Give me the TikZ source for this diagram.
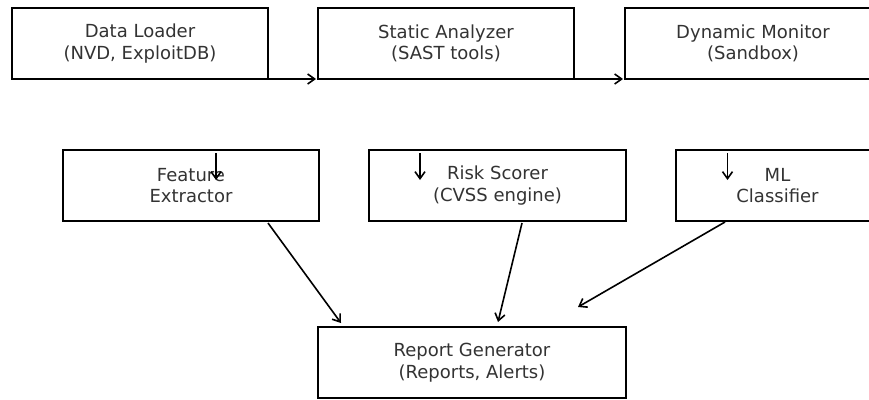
\documentclass[tikz,border=0pt]{standalone}
\usepackage{fontspec}
\setmainfont{DejaVu Sans}
\usetikzlibrary{arrows.meta,calc}
\definecolor{textgrey}{HTML}{333333}
\begin{document}
\begin{tikzpicture}[x=1pt,y=-1pt,
  box/.style={draw=black,line width=1.8pt,rectangle,inner sep=0pt,outer sep=0pt,minimum height=71pt,
    align=center,text=textgrey,font=\fontsize{18}{21.5}\selectfont},
  arr/.style={line width=1.6pt,-{Straight Barb[length=7pt,width=10pt]}}]
\fill[white] (0,0) rectangle (869,399);
\useasboundingbox (0,0) rectangle (869,399);
\node[box,minimum width=256pt] (dl) at (140,43.5) {Data Loader\\(NVD, ExploitDB)};
\node[box,minimum width=256pt] (sa) at (446,43.5) {Static Analyzer\\(SAST tools)};
\node[box,minimum width=256pt] (dm) at (753,43.5) {Dynamic Monitor\\(Sandbox)};
\node[box,minimum width=256pt] (fe) at (191,185.5) {Feature\\Extractor};
\node[box,minimum width=257pt] (rs) at (497.5,185.5) {Risk Scorer\\(CVSS engine)};
\node[box,minimum width=203pt] (ml) at (777.5,185.5) {ML\\Classifier};
\node[box,minimum width=308pt] (rg) at (472,362.5) {Report Generator\\(Reports, Alerts)};
\draw[arr] (dl.south east) -- ($(sa.south west)+(-2,0)$);
\draw[arr] (sa.south east) -- ($(dm.south west)+(-2,0)$);
\draw[arr] ($(fe.north)+(25,3)$) -- ($(fe.north)+(25,30)$);
\draw[arr] ($(rs.north)+(-77.5,3)$) -- ($(rs.north)+(-77.5,30)$);
\draw[arr] ($(ml.north)+(-50,3)$) -- ($(ml.north)+(-50,30)$);
\draw[arr] ($(fe.south)+(77,2)$) -- ($(rg.north)+(-131,-4)$);
\draw[arr] ($(rs.south)+(24.5,2)$) -- ($(rg.north)+(26,-5)$);
\draw[arr] ($(ml.south)+(-52.5,1)$) -- ($(rg.north)+(106,-20)$);
\end{tikzpicture}
\end{document}
